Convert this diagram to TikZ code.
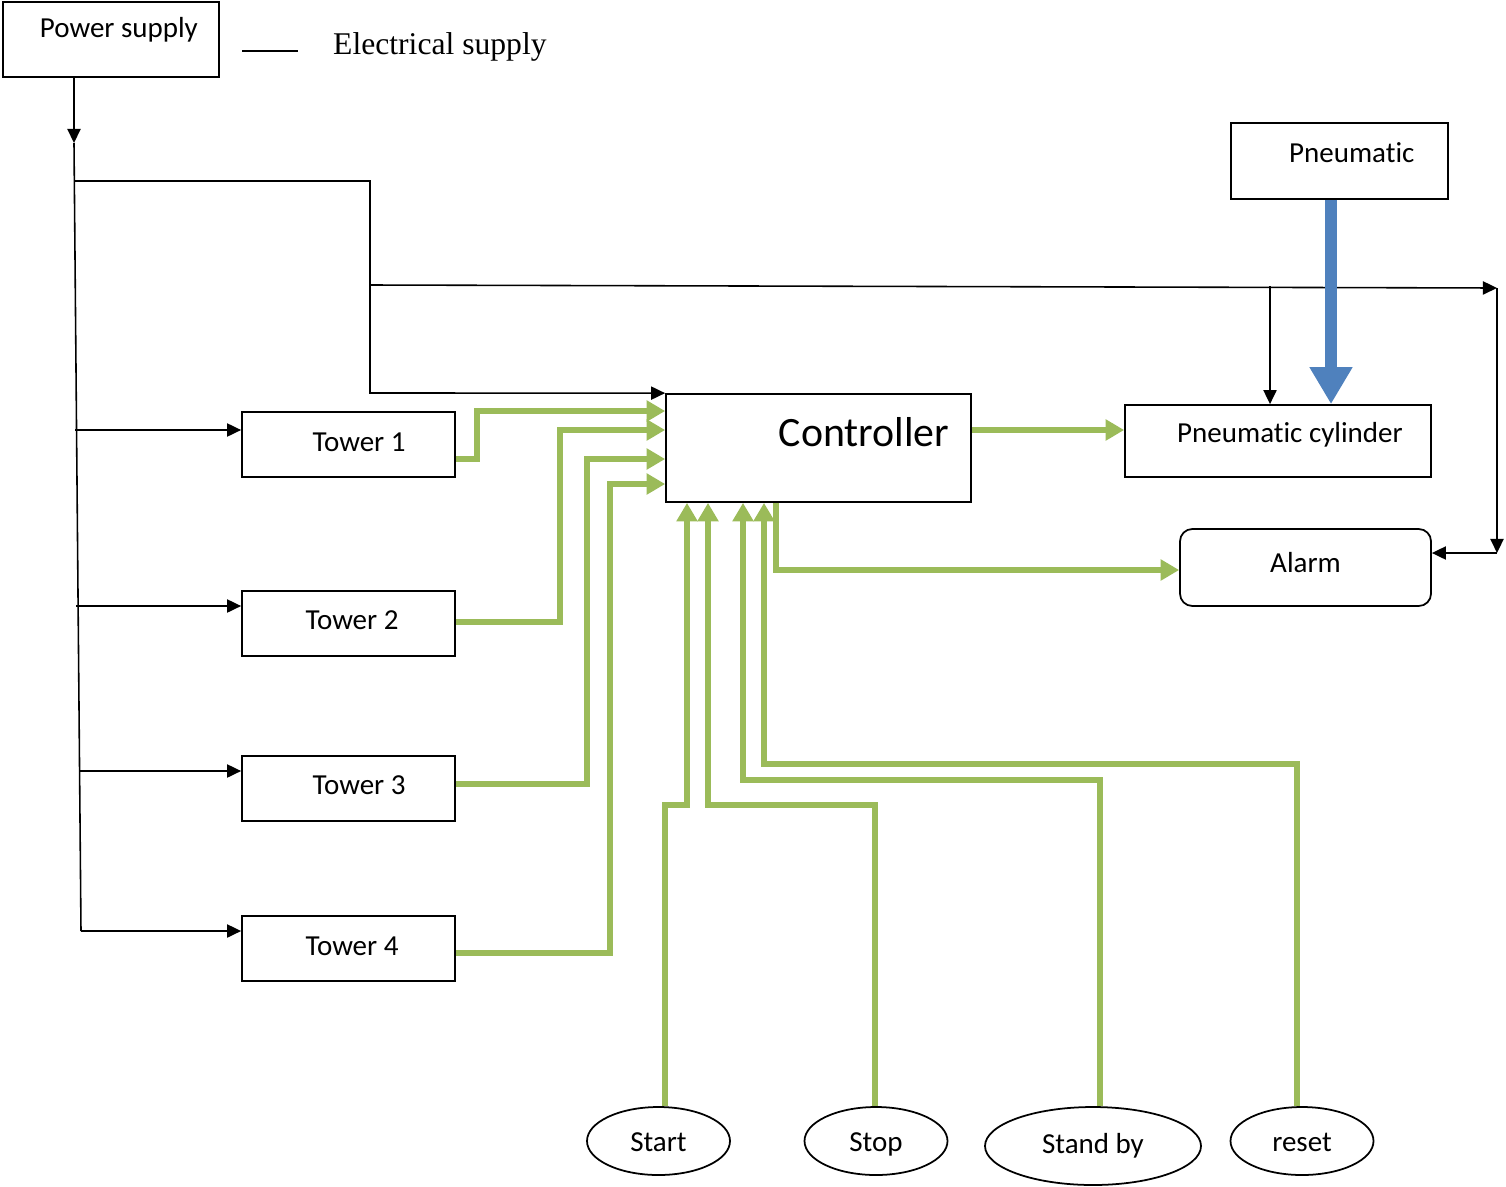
\documentclass[tikz,border=0pt]{standalone}
\usepackage{fontspec}
\setmainfont{Carlito}[Ligatures={NoCommon,NoContextual,NoRare}]
\newfontfamily\legendfont{Liberation Serif}
\usetikzlibrary{arrows.meta,shapes.geometric}
\definecolor{sigGreen}{HTML}{9BBB59}
\definecolor{airBlue}{HTML}{4F81BD}
\tikzset{
  block/.style={draw, line width=1pt, inner sep=0pt},
  towerbox/.style={block, minimum width=213*0.02cm, minimum height=65*0.02cm},
  button/.style={draw, ellipse, line width=1pt, inner sep=0pt,
    text height=14.5pt, text depth=3pt,
    minimum width=143*0.02cm, minimum height=68*0.02cm},
  wire/.style={line width=0.9pt, ->},
  signal/.style={draw=sigGreen, line width=3.1pt,
    -{Triangle[length=10.5pt,width=11.5pt]}},
  air/.style={draw=airBlue, line width=6.8pt,
    -{Triangle[length=21pt,width=23pt]}}
}
\begin{document}
\begin{tikzpicture}[x=0.02cm, y=-0.02cm, >={Triangle[length=8pt,width=7.5pt]},
  every node/.style={font=\fontsize{16.5}{19}\selectfont}]
\useasboundingbox (0,0) rectangle (1506,1186);
% blocks
\node[block, minimum width=216*0.02cm, minimum height=75*0.02cm,
  label={[xshift=4.5pt,yshift=5.4pt]center:Power supply}] (power) at (111,39.5) {};
\node[towerbox, label={[xshift=6pt,yshift=1.4pt]center:Tower 1}] (t1) at (348.5,444.5) {};
\node[towerbox, label={[xshift=2pt,yshift=2pt]center:Tower 2}] (t2) at (348.5,623.5) {};
\node[towerbox, label={[xshift=6pt,yshift=2pt]center:Tower 3}] (t3) at (348.5,788.5) {};
\node[towerbox, label={[xshift=2pt,yshift=1.4pt]center:Tower 4}] (t4) at (348.5,948.5) {};
\node[block, minimum width=305*0.02cm, minimum height=108*0.02cm,
  label={[font=\fontsize{23.8}{28}\selectfont, xshift=26pt, yshift=9pt]center:Controller}] (ctrl) at (818.5,448) {};
\node[block, minimum width=217*0.02cm, minimum height=76*0.02cm,
  label={[xshift=7pt,yshift=5pt]center:Pneumatic}] (pneu) at (1339.5,161) {};
\node[block, minimum width=306*0.02cm, minimum height=72*0.02cm,
  label={[xshift=6.8pt,yshift=3.4pt]center:Pneumatic cylinder}] (cyl) at (1278,441) {};
\node[block, rounded corners=7pt, minimum width=251*0.02cm, minimum height=77*0.02cm,
  label={[yshift=3pt]center:Alarm}] (alarm) at (1305.5,567.5) {};
% push buttons
\node[button] (start) at (658.5,1141) {Start};
\node[button] (stop) at (876,1141) {Stop};
\node[button, minimum width=216*0.02cm, minimum height=78*0.02cm,
  text height=12pt] (standby) at (1093,1146) {Stand by};
\node[button] (reset) at (1302,1141) {reset};
% legend
\node[font=\legendfont\fontsize{18}{21}\selectfont, anchor=west] (legend) at (327,47) {Electrical supply};
\draw[line width=0.9pt] (242,51) -- (298,51);
% electrical supply
\coordinate (split) at (74,143);
\draw[wire] (power.south -| split) -- (split);
\draw[line width=0.9pt] (split) -- (81,931);
\draw[wire] (75,181) -| (370,393) -- (ctrl.north west);
\draw[wire] (369,285) -- (1497,288);
\draw[wire] (1497,288) -- (1497,553);
\draw[wire] (1497,553) -- (alarm.east |- 0,553);
\draw[wire] (1270,286) -- (cyl.north -| 1270,0);
\draw[wire] (75,430) -- (t1.west |- 0,430);
\draw[wire] (76,606) -- (t2.west |- 0,606);
\draw[wire] (80,771) -- (t3.west |- 0,771);
\draw[wire] (81,931) -- (t4.west |- 0,931);
% pneumatic supply
\draw[air] (pneu.south -| 1331,0) -- (cyl.north -| 1331,0);
% sensor and button signals
\draw[signal] (t1.east |- 0,459) -| (477,411) -- (ctrl.west |- 0,411);
\draw[signal] (t2.east |- 0,622) -| (560,430) -- (ctrl.west |- 0,430);
\draw[signal] (t3.east |- 0,784) -| (587,459) -- (ctrl.west |- 0,459);
\draw[signal] (t4.east |- 0,953) -| (610,484) -- (ctrl.west |- 0,484);
\draw[signal] (ctrl.east |- 0,430) -- (cyl.west |- 0,430);
\draw[signal] (ctrl.south -| 776,0) |- (alarm.west |- 0,570);
\draw[signal] (start.north -| 665,0) |- (687,805) -- (ctrl.south -| 687,0);
\draw[signal] (stop.north -| 875,0) |- (708,805) -- (ctrl.south -| 708,0);
\draw[signal] (standby.north -| 1100,0) |- (743,780) -- (ctrl.south -| 743,0);
\draw[signal] (reset.north -| 1297,0) |- (764,764) -- (ctrl.south -| 764,0);
\end{tikzpicture}
\end{document}
